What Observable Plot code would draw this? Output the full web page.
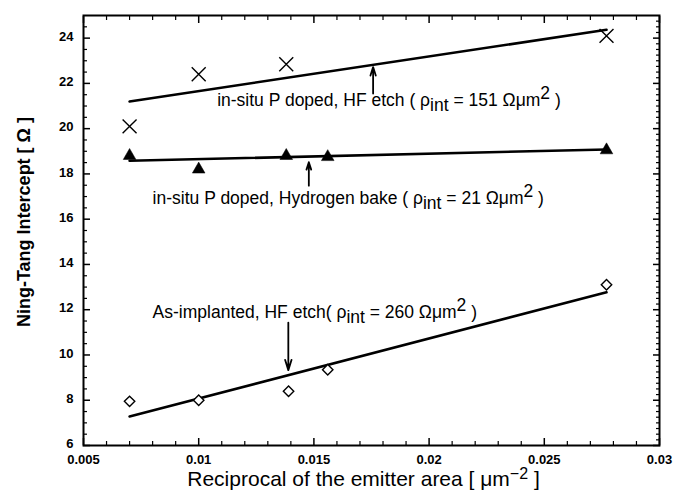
<!DOCTYPE html>
<html><head><meta charset="utf-8">
<script src="https://cdn.jsdelivr.net/npm/d3@7"></script>
<script src="https://cdn.jsdelivr.net/npm/@observablehq/plot@0.6"></script>
<style>html,body{margin:0;padding:0;background:#fff}</style>
</head><body><div id="chart"></div>
<script>
// ---- data ----
// in-situ P doped, HF etch (crosses)
const hfX = [0.007, 0.010, 0.0138, 0.0277];
const hfY = [20.1, 22.4, 22.85, 24.1];
// in-situ P doped, Hydrogen bake (filled triangles)
const h2X = [0.007, 0.010, 0.0138, 0.0156, 0.0277];
const h2Y = [18.8, 18.2, 18.8, 18.75, 19.05];
// As-implanted, HF etch (open diamonds)
const impX = [0.007, 0.010, 0.0139, 0.0156, 0.0277];
const impY = [7.95, 8.0, 8.4, 9.35, 13.1];
// linear fits (end points)
const fitX = [0.007, 0.0277];
const fitHF = [21.2, 24.37];
const fitH2 = [18.58, 19.08];
const fitImp = [7.28, 12.77];
// annotations
const noteText = [
  "in-situ P doped, HF etch ( ρ_{int} = 151 Ωμm^{2} )",
  "in-situ P doped, Hydrogen bake ( ρ_{int} = 21 Ωμm^{2} )",
  "As-implanted, HF etch( ρ_{int} = 260 Ωμm^{2} )"
];
const noteX = [0.0108, 0.0080, 0.0080];
const noteY = [21.0, 16.68, 11.62];
const arrowX = [0.01757, 0.01478, 0.01389];
const arrowFrom = [21.55, 17.48, 11.43];
const arrowTo = [22.72, 18.52, 9.33];
// axes
const xTicks = [0.005, 0.01, 0.015, 0.02, 0.025, 0.03];
const xMinor = d3.range(6, 30).filter(i => i % 5 !== 0).map(i => i / 1000);
const yTicks = [6, 8, 10, 12, 14, 16, 18, 20, 22, 24];
const yMinorLeft = d3.range(13, 50).map(i => i / 2).filter(v => v % 2 !== 0);
const yMinorRight = d3.range(25, 100).map(i => i / 4).filter(v => v % 2 !== 0);
const xTitle = "Reciprocal of the emitter area [ μm^{−2} ]";
const yTitle = "Ning-Tang Intercept [ Ω ]";

const rows = (xs, ys) => xs.map((x, i) => ({x, y: ys[i]}));
const notes = noteText.map((label, i) => ({label, x: noteX[i], y: noteY[i]}));
const arrows = arrowX.map((x, i) => ({x, y1: arrowFrom[i], y2: arrowTo[i]}));

const font = "'Liberation Sans', Arial, Helvetica, sans-serif";
const tickFont = {fontSize: 13, fontWeight: "bold"};

const svg = Plot.plot({
  width: 677, height: 498,
  marginLeft: 83, marginRight: 18, marginTop: 15, marginBottom: 53,
  x: {domain: [0.005, 0.03]},
  y: {domain: [6, 25]},
  style: {fontFamily: font, background: "white", color: "black", overflow: "visible"},
  marks: [
    // ticks, all inward
    Plot.axisX({anchor: "bottom", ticks: xTicks, tickSize: -7, tickPadding: 16, strokeWidth: 1.5,
      tickFormat: d => String(+d.toFixed(3)), label: null, ...tickFont}),
    Plot.axisX({anchor: "bottom", ticks: xMinor, tickSize: -4, fill: "none", strokeWidth: 1.2, label: null}),
    Plot.axisX({anchor: "top", ticks: xTicks, tickSize: -7, fill: "none", strokeWidth: 1.5, label: null}),
    Plot.axisX({anchor: "top", ticks: xMinor, tickSize: -4, fill: "none", strokeWidth: 1.2, label: null}),
    Plot.axisY({anchor: "left", ticks: yTicks, tickSize: -7, fill: "none", strokeWidth: 1.5, label: null}),
    Plot.axisY({anchor: "left", ticks: yTicks, tickSize: 0, tickPadding: 10, dy: -1.5,
      tickFormat: d => String(d), label: null, ...tickFont}),
    Plot.axisY({anchor: "left", ticks: yMinorLeft, tickSize: -4, fill: "none", strokeWidth: 1.2, label: null}),
    Plot.axisY({anchor: "right", ticks: yTicks, tickSize: -7, fill: "none", strokeWidth: 1.5, label: null}),
    Plot.axisY({anchor: "right", ticks: yMinorRight, tickSize: -4, fill: "none", strokeWidth: 1.2, label: null}),
    Plot.frame({stroke: "black", strokeWidth: 2}),
    // fit lines
    Plot.line(rows(fitX, fitHF), {x: "x", y: "y", stroke: "black", strokeWidth: 2.6}),
    Plot.line(rows(fitX, fitH2), {x: "x", y: "y", stroke: "black", strokeWidth: 2.6}),
    Plot.line(rows(fitX, fitImp), {x: "x", y: "y", stroke: "black", strokeWidth: 2.6}),
    // data points
    Plot.dot(rows(hfX, hfY), {x: "x", y: "y", symbol: "times", r: 6.4, stroke: "black", strokeWidth: 1.4}),
    Plot.dot(rows(h2X, h2Y), {x: "x", y: "y", symbol: "triangle", r: 4.7, fill: "black", stroke: "black", strokeWidth: 0.5}),
    Plot.dot(rows(impX, impY), {x: "x", y: "y", symbol: "diamond2", r: 4.7, fill: "white", stroke: "black", strokeWidth: 1.4}),
    // annotation arrows and texts
    Plot.arrow(arrows, {x1: "x", y1: "y1", x2: "x", y2: "y2", stroke: "black", strokeWidth: 1.8, headLength: 9, headAngle: 35}),
    Plot.text(notes, {x: "x", y: "y", text: "label", textAnchor: "start", lineAnchor: "bottom", fontSize: 17.5, fill: "black"}),
    // axis titles
    Plot.text([xTitle], {text: d => d, frameAnchor: "bottom", textAnchor: "middle", dx: -8, dy: 40, lineAnchor: "bottom", fontSize: 21, fill: "black"}),
    Plot.text([yTitle], {text: d => d, frameAnchor: "left", textAnchor: "middle", dx: -59, dy: -8.5, rotate: -90, lineAnchor: "middle", fontSize: 18, fontWeight: "bold", fill: "black"})
  ]
});

// rich text: _{sub} and ^{sup}
function rich(el, markup, sub, sup, supSize) {
  const parts = markup.split(/(_\{[^}]*\}|\^\{[^}]*\})/).filter(s => s.length);
  while (el.firstChild) el.removeChild(el.firstChild);
  let shift = 0;
  for (const p of parts) {
    let target = 0, s = p, size = null;
    if (p.startsWith("_{")) { target = sub; s = p.slice(2, -1); }
    else if (p.startsWith("^{")) { target = sup; s = p.slice(2, -1); size = supSize; }
    const ts = document.createElementNS("http://www.w3.org/2000/svg", "tspan");
    if (target - shift !== 0) ts.setAttribute("dy", target - shift);
    if (size) ts.setAttribute("font-size", size);
    shift = target;
    ts.textContent = s;
    el.appendChild(ts);
  }
}
svg.querySelectorAll("text").forEach(el => {
  const t = el.textContent;
  if (noteText.includes(t)) rich(el, t, 5, -7, null);
  else if (t === xTitle) rich(el, t, 0, -6.5, 16);
});

document.getElementById("chart").appendChild(svg);
</script></body></html>
